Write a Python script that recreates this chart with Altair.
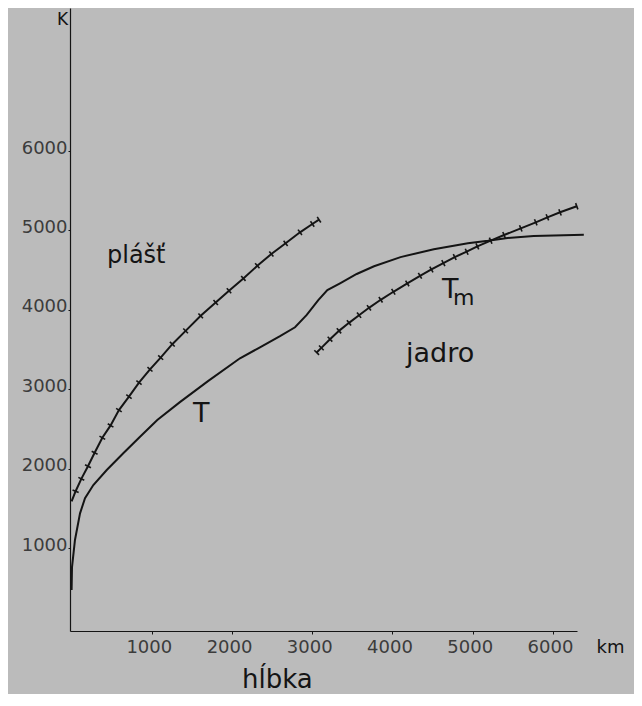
import math
import altair as alt
import pandas as pd

# ---- data ----
# melting curve in the mantle (ticked line)
mantle_x = [0, 50, 121, 204, 287, 383, 486, 590, 715, 840, 977, 1110, 1255, 1421,
            1609, 1796, 1962, 2141, 2315, 2490, 2668, 2847, 3001, 3084]
mantle_y = [1590, 1719, 1875, 2034, 2203, 2392, 2547, 2740, 2909, 3086, 3253, 3401,
            3569, 3737, 3926, 4094, 4241, 4397, 4556, 4704, 4839, 4977, 5082, 5136]

# melting curve in the core, T_m (ticked line)
core_x = [3055, 3113, 3221, 3333, 3458, 3583, 3707, 3853, 4011, 4185, 4343, 4485,
          4634, 4776, 4925, 5058, 5224, 5391, 5599, 5786, 5931, 6089, 6297]
core_y = [3464, 3523, 3632, 3737, 3838, 3934, 4027, 4128, 4229, 4334, 4430, 4510,
          4590, 4666, 4733, 4800, 4872, 4943, 5027, 5103, 5166, 5229, 5305]

# temperature profile T
geo_x = [0, 5, 42, 105, 167, 271, 438, 644, 853, 1068, 1350, 1700, 2099, 2348, 2598,
         2785, 2931, 3075, 3188, 3346, 3554, 3770, 4100, 4515, 4940, 5190, 5435, 5760, 6385]
geo_y = [475, 765, 1105, 1441, 1630, 1797, 1986, 2196, 2405, 2615, 2840, 3105, 3392,
         3530, 3670, 3782, 3937, 4125, 4251, 4336, 4453, 4550, 4665, 4765, 4840, 4870,
         4905, 4930, 4945]

tick_values = [1000, 2000, 3000, 4000, 5000, 6000]

# annotations
label_text = ["plášť", "T", "T", "m", "jadro", "hĺbka"]
label_x = [441, 1513, 4617, 4754, 4168, 2124]
label_y = [4591, 2590, 4150, 4062, 3345, -760]
label_size = [24, 27, 27, 22, 27, 26]

# ---- chart ----
W, H = 507, 623
XDOM = [-20, 6300]
YDOM = [-40, 7800]
PX = W / (XDOM[1] - XDOM[0])
PY = H / (YDOM[1] - YDOM[0])
INK = "#141414"
FONT = "DejaVu Sans"


def tick_frame(xs, ys, skip_first=False):
    rows = []
    n = len(xs)
    for i in range(n):
        if skip_first and i == 0:
            continue
        a = max(i - 1, 0)
        b = min(i + 1, n - 1)
        dx = (xs[b] - xs[a]) * PX
        dy = (ys[b] - ys[a]) * PY
        phi = math.degrees(math.atan2(dy, dx))
        rows.append({"x": xs[i], "y": ys[i], "angle": (180 - phi) % 180})
    return pd.DataFrame(rows)


xs = alt.Scale(domain=XDOM, nice=False, zero=False)
ys = alt.Scale(domain=YDOM, nice=False, zero=False)

x_axis = alt.Axis(values=tick_values, title="km", grid=False, format="d",
                  domainColor=INK, tickColor=INK, tickSize=3, labelPadding=4,
                  labelFont=FONT, labelFontSize=18, labelColor="#3c3c3c",
                  labelOffset=-3, labelFlush=False, labelOverlap=False,
                  titleFont=FONT, titleFontSize=18, titleFontWeight="normal",
                  titleColor=INK, titleX=540, titleY=16, titleAlign="center",
                  titleBaseline="middle", domainWidth=1.2)
y_axis = alt.Axis(values=tick_values, title="K", grid=False, format="d",
                  domainColor=INK, tickColor=INK, tickSize=2, labelPadding=1,
                  labelFont=FONT, labelFontSize=18, labelColor="#3c3c3c",
                  labelOffset=-3, labelFlush=False, labelOverlap=False,
                  titleFont=FONT, titleFontSize=17, titleFontWeight="normal",
                  titleColor=INK, titleAngle=0, titleX=-8, titleY=11,
                  titleAlign="center", titleBaseline="middle", domainWidth=1.2)

X = alt.X("x:Q", scale=xs, axis=x_axis)
Y = alt.Y("y:Q", scale=ys, axis=y_axis)


def line_layer(xv, yv):
    df = pd.DataFrame({"x": xv, "y": yv, "i": list(range(len(xv)))})
    return alt.Chart(df).mark_line(color=INK, strokeWidth=2, clip=False).encode(
        x=X, y=Y, order=alt.Order("i:Q"))


def ticks_layer(df):
    return alt.Chart(df).mark_point(
        shape="M0,-1L0,1", size=44, filled=False, color=INK, strokeWidth=1.6, opacity=1
    ).encode(x=X, y=Y, angle=alt.Angle("angle:Q", scale=None))


labels_df = pd.DataFrame({"text": label_text, "x": label_x, "y": label_y, "fs": label_size})
labels = alt.Chart(labels_df).mark_text(
    align="left", baseline="alphabetic", font=FONT, color=INK, clip=False
).encode(x=X, y=Y, text="text:N", size=alt.Size("fs:Q", scale=None))

chart = alt.layer(
    line_layer(geo_x, geo_y),
    line_layer(mantle_x, mantle_y),
    line_layer(core_x, core_y),
    ticks_layer(tick_frame(mantle_x, mantle_y, skip_first=True)),
    ticks_layer(tick_frame(core_x, core_y)),
    labels,
).properties(
    width=W, height=H,
    padding={"left": 62, "top": 0, "right": 57, "bottom": 63},
    autosize=alt.AutoSizeParams(type="none"),
    background="#bbbbbb",
).configure_view(strokeOpacity=0)

chart.save("out.html", embed_options={"renderer": "svg", "actions": False})
